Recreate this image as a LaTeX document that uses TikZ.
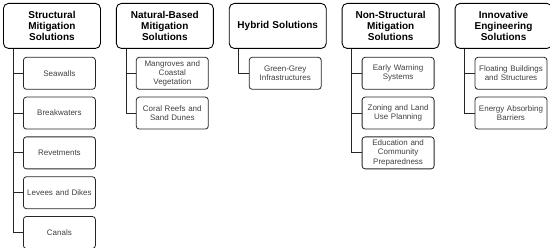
\documentclass[tikz,border=0pt]{standalone}
\usepackage{fontspec}
\setmainfont{Liberation Sans}
\usetikzlibrary{positioning}
\definecolor{edgegray}{HTML}{262626}
\definecolor{textgray}{HTML}{3F3F3F}

\begin{document}
\begin{tikzpicture}[x=1pt, y=1pt,
  head/.style={draw=black, line width=0.9pt, rounded corners=5pt, minimum width=97pt, minimum height=45pt, text width=93pt, inner sep=2pt, align=center, font=\bfseries\fontsize{10}{11}\selectfont},
  item/.style={draw=edgegray, line width=0.8pt, rounded corners=3pt, minimum width=72pt, minimum height=32pt, text width=68pt, inner sep=2pt, align=center, text=textgray, font=\fontsize{8}{9.2}\selectfont},
  conn/.style={draw=edgegray, line width=0.8pt}
]
  \useasboundingbox (0,0) rectangle (550,-248);
  % headers
  \node[head, anchor=north west] (struct) at (3,-3) {Structural\\Mitigation\\Solutions};
  \node[head, right=15pt of struct] (natural) {Natural-Based\\Mitigation\\Solutions};
  \node[head, right=15pt of natural] (hybrid) {Hybrid Solutions};
  \node[head, right=15pt of hybrid] (nonstruct) {Non-Structural\\Mitigation\\Solutions};
  \node[head, right=15pt of nonstruct] (innov) {Innovative\\Engineering\\Solutions};
  % structural
  \node[item, below right=8pt and 20pt of struct.south west] (seawalls) {Seawalls};
  \node[item, below=7pt of seawalls] (breakwaters) {Breakwaters};
  \node[item, below=7pt of breakwaters] (revetments) {Revetments};
  \node[item, below=7pt of revetments] (levees) {Levees and Dikes};
  \node[item, below=7pt of levees] (canals) {Canals};
  % natural-based
  \node[item, below right=8pt and 20pt of natural.south west] (mangroves) {Mangroves and\\Coastal\\Vegetation};
  \node[item, below=7pt of mangroves] (coral) {Coral Reefs and\\Sand Dunes};
  % hybrid
  \node[item, below right=8pt and 20pt of hybrid.south west] (greygreen) {Green-Grey\\Infrastructures};
  % non-structural
  \node[item, below right=8pt and 20pt of nonstruct.south west] (warning) {Early Warning\\Systems};
  \node[item, below=7pt of warning] (zoning) {Zoning and Land\\Use Planning};
  \node[item, below=7pt of zoning] (education) {Education and\\Community\\Preparedness};
  % innovative
  \node[item, below right=8pt and 20pt of innov.south west] (floating) {Floating Buildings\\and Structures};
  \node[item, below=7pt of floating] (absorbing) {Energy Absorbing\\Barriers};
  % trunk lines
  \coordinate (structline) at ([xshift=10pt]struct.south west);
  \coordinate (naturalline) at ([xshift=10pt]natural.south west);
  \coordinate (hybridline) at ([xshift=10pt]hybrid.south west);
  \coordinate (nonstructline) at ([xshift=10pt]nonstruct.south west);
  \coordinate (innovline) at ([xshift=10pt]innov.south west);
  \draw[conn] (structline) |- (canals.west);
  \draw[conn] (structline |- seawalls.west) -- (seawalls.west);
  \draw[conn] (structline |- breakwaters.west) -- (breakwaters.west);
  \draw[conn] (structline |- revetments.west) -- (revetments.west);
  \draw[conn] (structline |- levees.west) -- (levees.west);
  \draw[conn] (naturalline) |- (coral.west);
  \draw[conn] (naturalline |- mangroves.west) -- (mangroves.west);
  \draw[conn] (hybridline) |- (greygreen.west);
  \draw[conn] (nonstructline) |- (education.west);
  \draw[conn] (nonstructline |- warning.west) -- (warning.west);
  \draw[conn] (nonstructline |- zoning.west) -- (zoning.west);
  \draw[conn] (innovline) |- (absorbing.west);
  \draw[conn] (innovline |- floating.west) -- (floating.west);
\end{tikzpicture}
\end{document}
